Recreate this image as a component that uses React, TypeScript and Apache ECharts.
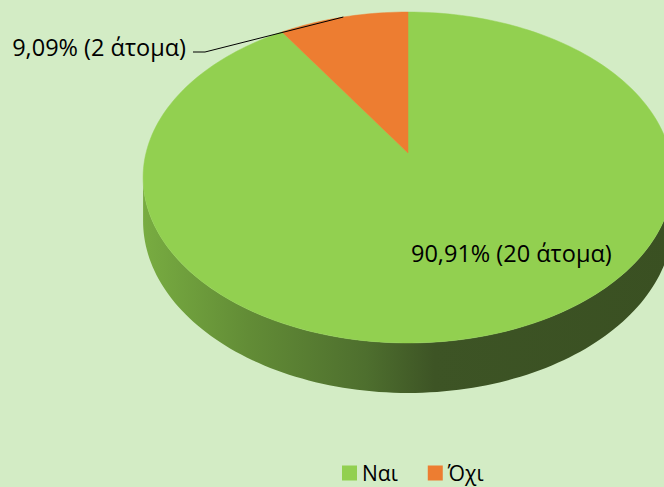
import React, { useEffect, useRef } from 'react';
import * as echarts from 'echarts';

const categories = ['Ναι', 'Όχι'];
const values = [20, 2];
const colors = ['#92d050', '#ed7d31'];
const unitLabel = 'άτομα';

// projection parameters of the tilted pie
const CX = 408;
const K = 262;
const A = 139.2;
const B = 153;
const C = -0.148;
const D = 42.6;
const SIL0 = Math.acos(C); // silhouette angles (side visible between)
const SIL1 = 2 * Math.PI - Math.acos(C);
const FONT = '"Open Sans", sans-serif';

function proj(theta: number) {
  const u = Math.sin(theta);
  const v = -Math.cos(theta);
  const den = 1 + C * v;
  return { x: CX + (K * u) / den, y: (A * v + B) / den, d: D / den };
}

function fmtLabel(v: number, total: number) {
  const p = ((v / total) * 100).toFixed(2).replace('.', ',');
  return `${p}% (${v} ${unitLabel})`;
}

export default function App() {
  const ref = useRef<HTMLDivElement>(null);
  useEffect(() => {
    document.body.style.margin = '0';
    if (!ref.current) return;
    const chart = echarts.init(ref.current, undefined, { renderer: 'svg' });
    const total = values.reduce((s, v) => s + v, 0);
    const series = categories.map((name, i) => {
      const start = values.slice(0, i).reduce((s, v) => s + v, 0);
      return {
        type: 'custom',
        name,
        coordinateSystem: 'none',
        itemStyle: { color: colors[i] },
        data: [[values[i]]],
        renderItem: (_params: any, api: any) => {
          const val = api.value(0);
          const a0 = (start / total) * Math.PI * 2;
          const a1 = ((start + val) / total) * Math.PI * 2;
          const children: any[] = [];
          const N = 120;
          // side wall
          const s0 = Math.max(a0, SIL0);
          const s1 = Math.min(a1, SIL1);
          if (s1 > s0) {
            const top: number[][] = [];
            const bot: number[][] = [];
            for (let k = 0; k <= N; k++) {
              const t = s0 + ((s1 - s0) * k) / N;
              const p = proj(t);
              top.push([p.x, p.y]);
              bot.push([p.x, p.y + p.d]);
            }
            children.push({
              type: 'polygon',
              shape: { points: top.concat(bot.reverse()) },
              style: {
                fill: new echarts.graphic.LinearGradient(0, 0, 1, 0, [
                  { offset: 0, color: '#78ac41' },
                  { offset: 0.2, color: '#628c36' },
                  { offset: 0.42, color: '#4e6f2e' },
                  { offset: 0.55, color: '#3d5425' },
                  { offset: 1, color: '#3a5022' },
                ]),
              },
            });
          }
          // top face
          const pts: number[][] = [[CX, B]];
          const M = Math.max(2, Math.ceil(((a1 - a0) / (Math.PI * 2)) * 240));
          for (let k = 0; k <= M; k++) {
            const t = a0 + ((a1 - a0) * k) / M;
            const p = proj(t);
            pts.push([p.x, p.y]);
          }
          children.push({
            type: 'polygon',
            shape: { points: pts },
            style: { fill: colors[i], stroke: colors[i], lineWidth: 0.5 },
          });
          // label
          const text = fmtLabel(val, total);
          const frac = val / total;
          if (frac > 0.5) {
            children.push({
              type: 'text',
              x: 411,
              y: 253,
              style: { text, fill: '#000', font: `23.5px ${FONT}`, align: 'left', verticalAlign: 'middle' },
            });
          } else {
            const mid = proj((a0 + a1) / 2);
            children.push({
              type: 'polyline',
              shape: { points: [[193, 52], [205, 52], [mid.x, mid.y]] },
              style: { stroke: '#000', lineWidth: 1, fill: null },
            });
            children.push({
              type: 'text',
              x: 186,
              y: 47,
              style: { text, fill: '#000', font: `23.5px ${FONT}`, align: 'right', verticalAlign: 'middle' },
            });
          }
          return { type: 'group', children };
        },
      };
    });
    chart.setOption({
      animation: false,
      backgroundColor: '#d3ecc5',
      legend: {
        data: categories,
        left: 342,
        top: 462,
        padding: 0,
        icon: 'rect',
        itemWidth: 15,
        itemHeight: 15,
        itemGap: 30,
        textStyle: { fontSize: 21, lineHeight: 22, fontFamily: FONT, color: '#000' },
      },
      series,
    } as any);
    return () => chart.dispose();
  }, []);
  return <div ref={ref} style={{ width: 664, height: 487 }} />;
}
